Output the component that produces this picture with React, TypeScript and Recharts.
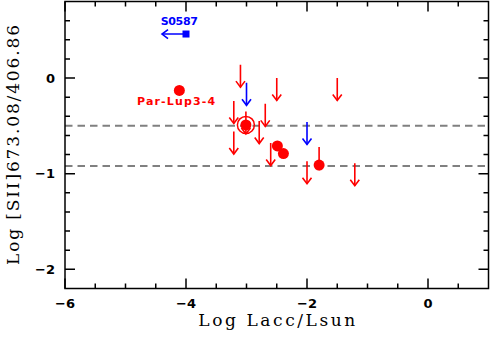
import React from 'react';
import { ScatterChart, Scatter, XAxis, YAxis, ReferenceLine, Customized } from 'recharts';

// ---- data ----
const circleX = [-4.11, -2.49, -2.39, -1.80];
const circleY = [-0.13, -0.71, -0.79, -0.91];
const circleNames = ['Par-Lup3-4', '', '', ''];

const ringX = [-3.01];
const ringY = [-0.49];

const redLimX = [-3.10, -2.50, -1.50, -3.21, -2.69, -2.79, -3.21, -2.60, -2.00, -1.21, -3.01, -1.80];
const redLimY = [0.14, 0.0, 0.0, -0.24, -0.27, -0.45, -0.56, -0.68, -0.87, -0.89, -0.35, -0.72];

const blueLimX = [-3.00, -2.00];
const blueLimY = [-0.05, -0.46];

const squareX = [-4.0];
const squareY = [0.46];
const squareNames = ['S0587'];

const refLevels = [-0.5, -0.92];

const xMajorTicks = [-6, -4, -2, 0];
const xMinorTicks = [-5.5, -5, -4.5, -3.5, -3, -2.5, -1.5, -1, -0.5, 0.5];
const yMajorTicks = [-2, -1, 0];
const yMinorTicks = [-1.8, -1.6, -1.4, -1.2, -0.8, -0.6, -0.4, -0.2, 0.2, 0.4, 0.6];

const xTitle = 'Log Lacc/Lsun';
const yTitle = 'Log [SII]673.08/406.86';

// ---- helpers ----
const zip = (xs: number[], ys: number[], names?: string[]) =>
  xs.map((x, i) => ({ x, y: ys[i], name: names ? names[i] : '' }));

const circleData = zip(circleX, circleY, circleNames);
const ringData = zip(ringX, ringY);
const redLimData = zip(redLimX, redLimY);
const blueLimData = zip(blueLimX, blueLimY);
const squareData = zip(squareX, squareY, squareNames);

const RED = '#ff0000';
const BLUE = '#0000ff';
const W = 491;
const H = 342;
const AX = 0.01; // axis band thickness
const PLOT = { left: 65, top: 1.5, right: W - 2.5, bottom: H - 53.5 };
const M = {
  top: PLOT.top - AX,
  right: W - PLOT.right - AX,
  bottom: H - PLOT.bottom - AX,
  left: PLOT.left - AX,
};
const X_DOMAIN: [number, number] = [-6, 1];
const Y_DOMAIN: [number, number] = [-2.2, 0.8];
const MAJOR_LEN = 10;
const MINOR_LEN = 5;

const fmt = (v: number) => (v < 0 ? '\u2212' + Math.abs(v) : String(v));
const tickFont = { fontFamily: 'DejaVu Sans', fontWeight: 'bold' as const, fontSize: 13 };

const BottomLabel = (props: any) => (
  <text x={props.x} y={PLOT.bottom + 19.5} textAnchor="middle" fill="#000" {...tickFont}>
    {fmt(props.payload.value)}
  </text>
);
const LeftLabel = (props: any) => (
  <text x={PLOT.left - 10} y={props.y + 4.7} textAnchor="end" fill="#000" {...tickFont}>
    {fmt(props.payload.value)}
  </text>
);

const DownArrow = (color: string) => (props: any) => {
  const { cx, cy } = props;
  const L = 22.5;
  return (
    <g stroke={color} strokeWidth={1.6} fill="none">
      <line x1={cx} y1={cy} x2={cx} y2={cy + L} />
      <polyline points={`${cx - 4.5},${cy + L - 6} ${cx},${cy + L} ${cx + 4.5},${cy + L - 6}`} />
    </g>
  );
};

const CircleShape = (props: any) => {
  const { cx, cy, payload } = props;
  return (
    <g>
      <circle cx={cx} cy={cy} r={5.5} fill={RED} />
      {payload.name ? (
        <text
          x={cx - 3.3}
          y={cy + 14.7}
          textAnchor="middle"
          fill={RED}
          fontFamily="DejaVu Sans"
          fontWeight="bold"
          fontSize={11}
          textLength={78}
          lengthAdjust="spacing"
        >
          {payload.name}
        </text>
      ) : null}
    </g>
  );
};

const RingShape = (props: any) => {
  const { cx, cy } = props;
  return (
    <g>
      <circle cx={cx} cy={cy} r={8.5} fill="none" stroke={RED} strokeWidth={1.5} />
      <circle cx={cx} cy={cy} r={5.5} fill={RED} />
    </g>
  );
};

const SquareShape = (props: any) => {
  const { cx, cy, payload } = props;
  const L = 24;
  return (
    <g>
      <g stroke={BLUE} strokeWidth={1.6} fill="none">
        <line x1={cx} y1={cy} x2={cx - L} y2={cy} />
        <polyline points={`${cx - L + 6},${cy - 4.5} ${cx - L},${cy} ${cx - L + 6},${cy + 4.5}`} />
      </g>
      <rect x={cx - 3.5} y={cy - 3.5} width={7} height={7} fill={BLUE} />
      <text
        x={cx - 6.7}
        y={cy - 9.3}
        textAnchor="middle"
        fill={BLUE}
        fontFamily="DejaVu Sans"
        fontWeight="bold"
        fontSize={11}
        textLength={37}
        lengthAdjust="spacing"
      >
        {payload.name}
      </text>
    </g>
  );
};

const Titles = () => {
  const plotCx = (PLOT.left + PLOT.right) / 2;
  const plotCy = (PLOT.top + PLOT.bottom) / 2;
  return (
    <g fill="#000" fontFamily="DejaVu Serif" fontSize={17}>
      <text x={plotCx} y={326} textAnchor="middle" textLength={157} lengthAdjust="spacing">
        {xTitle}
      </text>
      <text
        x={18.5}
        y={plotCy}
        textAnchor="middle"
        transform={`rotate(-90, 18.5, ${plotCy})`}
        textLength={240}
        lengthAdjust="spacing"
      >
        {yTitle}
      </text>
    </g>
  );
};

// frame with inward ticks on all four sides (same linear mapping as the chart's axes)
const sx = (v: number) =>
  PLOT.left + ((v - X_DOMAIN[0]) / (X_DOMAIN[1] - X_DOMAIN[0])) * (PLOT.right - PLOT.left);
const sy = (v: number) =>
  PLOT.bottom - ((v - Y_DOMAIN[0]) / (Y_DOMAIN[1] - Y_DOMAIN[0])) * (PLOT.bottom - PLOT.top);

const tickPath = (() => {
  let d = '';
  const addX = (t: number, len: number) => {
    const x = sx(t);
    d += `M${x},${PLOT.bottom}V${PLOT.bottom - len}M${x},${PLOT.top}V${PLOT.top + len}`;
  };
  const addY = (t: number, len: number) => {
    const y = sy(t);
    d += `M${PLOT.left},${y}H${PLOT.left + len}M${PLOT.right},${y}H${PLOT.right - len}`;
  };
  xMajorTicks.forEach((t) => addX(t, MAJOR_LEN));
  xMinorTicks.forEach((t) => addX(t, MINOR_LEN));
  yMajorTicks.forEach((t) => addY(t, MAJOR_LEN));
  yMinorTicks.forEach((t) => addY(t, MINOR_LEN));
  return d;
})();

const FrameOverlay = () => (
  <svg
    width={W}
    height={H}
    style={{ position: 'absolute', left: 0, top: 0, pointerEvents: 'none' }}
  >
    <path d={tickPath} stroke="#000" strokeWidth={1.5} fill="none" />
    <rect
      x={PLOT.left}
      y={PLOT.top}
      width={PLOT.right - PLOT.left}
      height={PLOT.bottom - PLOT.top}
      fill="none"
      stroke="#000"
      strokeWidth={1.5}
    />
  </svg>
);

export default function App() {
  return (
    <div style={{ position: 'absolute', left: 0, top: 0, width: W, height: H, background: '#fff' }}>
      <ScatterChart width={W} height={H} margin={M}>
        <XAxis
          xAxisId={0}
          type="number"
          dataKey="x"
          domain={X_DOMAIN}
          allowDataOverflow
          ticks={xMajorTicks}
          interval={0}
          orientation="bottom"
          height={AX}
          tickSize={0}
          tickMargin={0}
          tickLine={false}
          axisLine={false}
          tick={BottomLabel}
        />
        <YAxis
          yAxisId={0}
          type="number"
          dataKey="y"
          domain={Y_DOMAIN}
          allowDataOverflow
          ticks={yMajorTicks}
          interval={0}
          orientation="left"
          width={AX}
          tickSize={0}
          tickMargin={0}
          tickLine={false}
          axisLine={false}
          tick={LeftLabel}
        />
        {refLevels.map((lv) => (
          <ReferenceLine
            key={lv}
            y={lv}
            xAxisId={0}
            yAxisId={0}
            stroke="#808080"
            strokeWidth={2}
            strokeDasharray="7.5 5"
          />
        ))}
        <Scatter data={redLimData} xAxisId={0} yAxisId={0} shape={DownArrow(RED)} isAnimationActive={false} />
        <Scatter data={blueLimData} xAxisId={0} yAxisId={0} shape={DownArrow(BLUE)} isAnimationActive={false} />
        <Scatter data={ringData} xAxisId={0} yAxisId={0} shape={RingShape} isAnimationActive={false} />
        <Scatter data={circleData} xAxisId={0} yAxisId={0} shape={CircleShape} isAnimationActive={false} />
        <Scatter data={squareData} xAxisId={0} yAxisId={0} shape={SquareShape} isAnimationActive={false} />
        <Customized component={<Titles />} />
      </ScatterChart>
      <FrameOverlay />
    </div>
  );
}
